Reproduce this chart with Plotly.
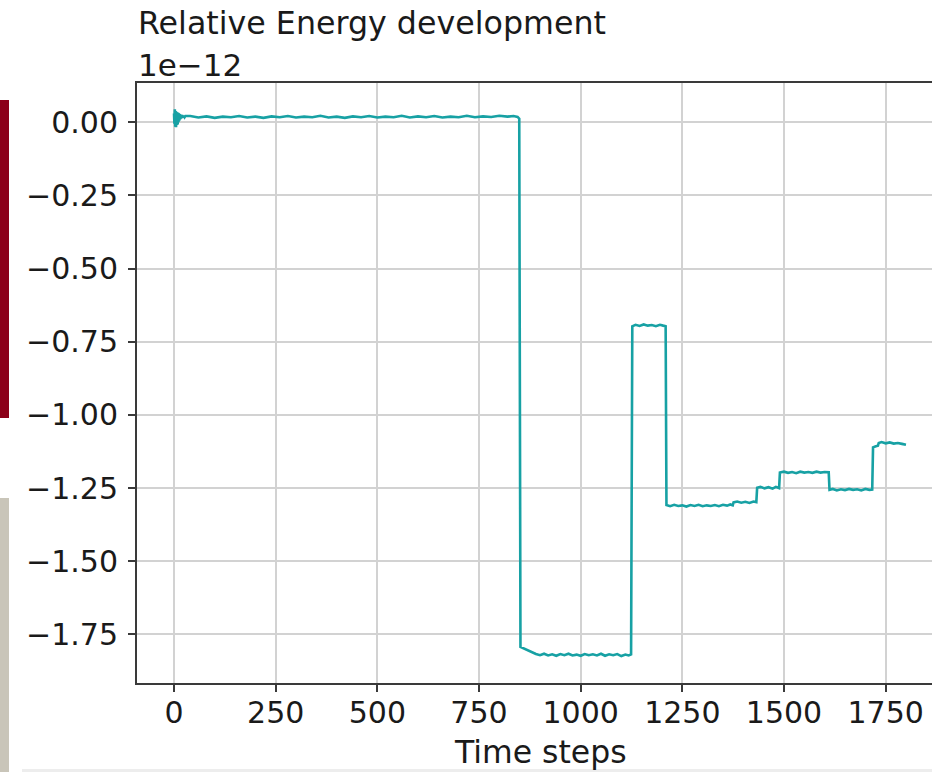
import plotly.graph_objects as go

# ---- data (relative energy, in units of 1e-12) ----
time_steps = [
    # start-up burst
    0, 1, 2, 3, 4, 5, 6, 7, 8, 9, 10, 11, 12, 13, 14, 15, 16, 17, 18, 19, 20, 22, 24, 26, 28,
    # first plateau (~0.02)
    40, 60, 80, 100, 120, 140, 160, 180, 200, 220, 240, 260, 280, 300, 320, 340, 360, 380,
    400, 420, 440, 460, 480, 500, 520, 540, 560, 580, 600, 620, 640, 660, 680, 700, 720,
    740, 760, 780, 800, 820, 835, 845, 849,
    # deep drop (~-1.82)
    852, 860, 870, 880, 890, 900, 910, 920, 930, 940, 950, 960, 970, 980, 990, 1000, 1010,
    1020, 1030, 1040, 1050, 1060, 1070, 1080, 1090, 1100, 1110, 1118, 1124,
    # jump (~-0.69)
    1127, 1135, 1145, 1155, 1165, 1175, 1185, 1195, 1203, 1209,
    # ~-1.31
    1211, 1220, 1230, 1240, 1250, 1260, 1270, 1280, 1290, 1300, 1310, 1320, 1330, 1340,
    1350, 1360, 1368, 1374,
    # ~-1.30
    1376, 1385, 1395, 1405, 1415, 1425, 1432,
    # ~-1.25
    1434, 1442, 1452, 1462, 1472, 1480, 1488,
    # ~-1.20
    1490, 1500, 1510, 1520, 1530, 1540, 1550, 1560, 1570, 1580, 1590, 1600, 1610,
    # ~-1.255
    1612, 1620, 1630, 1640, 1650, 1660, 1670, 1680, 1690, 1700, 1710, 1717,
    # ~-1.11 then ~-1.095
    1719, 1726, 1731,
    1733, 1740, 1750, 1760, 1770, 1780, 1790, 1800,
]
rel_energy_e12 = [
    0.030, -0.005, 0.044, -0.015, 0.038, -0.017, 0.036, -0.010, 0.034, -0.008, 0.032, 0.000,
    0.030, 0.005, 0.028, 0.010, 0.026, 0.012, 0.025, 0.014, 0.024, 0.016, 0.022, 0.017, 0.021,
    0.021, 0.016, 0.020, 0.015, 0.019, 0.017, 0.021, 0.016, 0.019, 0.015, 0.020, 0.017, 0.021,
    0.016, 0.019, 0.017, 0.022, 0.016, 0.019, 0.015, 0.020, 0.017, 0.021, 0.016, 0.019, 0.017,
    0.022, 0.016, 0.020, 0.017, 0.021, 0.016, 0.019, 0.017, 0.022, 0.017, 0.020, 0.018, 0.022,
    0.019, 0.021, 0.018, 0.012,
    -1.793, -1.798, -1.805, -1.812, -1.817, -1.821, -1.816, -1.822, -1.818, -1.823, -1.817,
    -1.821, -1.816, -1.822, -1.819, -1.823, -1.817, -1.821, -1.818, -1.822, -1.816, -1.823,
    -1.818, -1.821, -1.817, -1.824, -1.819, -1.822, -1.818,
    -0.697, -0.692, -0.696, -0.691, -0.695, -0.693, -0.697, -0.692, -0.695, -0.697,
    -1.308, -1.312, -1.307, -1.311, -1.309, -1.313, -1.308, -1.311, -1.307, -1.312, -1.309,
    -1.311, -1.308, -1.312, -1.307, -1.310, -1.306, -1.309,
    -1.299, -1.296, -1.300, -1.297, -1.301, -1.296, -1.298,
    -1.249, -1.246, -1.251, -1.247, -1.252, -1.246, -1.250,
    -1.197, -1.194, -1.198, -1.195, -1.199, -1.194, -1.197, -1.195, -1.198, -1.194, -1.197,
    -1.195, -1.196,
    -1.256, -1.253, -1.258, -1.254, -1.257, -1.253, -1.256, -1.254, -1.258, -1.253, -1.256,
    -1.255,
    -1.111, -1.107, -1.105,
    -1.096, -1.093, -1.097, -1.094, -1.098, -1.096, -1.099, -1.102,
]

x_ticks = [0, 250, 500, 750, 1000, 1250, 1500, 1750]
y_ticks = [0.0, -0.25, -0.5, -0.75, -1.0, -1.25, -1.5, -1.75]
y_tick_text = ["0.00", "\u22120.25", "\u22120.50", "\u22120.75", "\u22121.00", "\u22121.25", "\u22121.50", "\u22121.75"]

title_text = "Relative Energy development"
offset_text = "1e\u221212"
x_label = "Time steps"

FONT = "DejaVu Sans"
W, H = 932, 772
ML, MT, MB, MR = 137, 83, 89, 0
PW = W - ML - MR
PH = H - MT - MB

def px_x(px):
    return (px - ML) / PW

def px_y(py):
    return (H - MB - py) / PH

fig = go.Figure()
fig.add_trace(go.Scatter(
    x=time_steps, y=rel_energy_e12, mode="lines",
    line=dict(color="#17A1A4", width=2.6),
    showlegend=False, hoverinfo="skip",
))

axis_common = dict(
    showgrid=True, gridcolor="#D2D2D2", gridwidth=2,
    zeroline=False, showline=True, linecolor="#3A3A3A", linewidth=2,
    ticks="outside", ticklen=7, tickwidth=1.6, tickcolor="#3A3A3A",
    tickfont=dict(family=FONT, size=30, color="#1A1A1A"),
)

fig.update_layout(
    width=W, height=H,
    margin=dict(l=ML, r=MR, t=MT, b=MB),
    paper_bgcolor="white", plot_bgcolor="white",
    xaxis=dict(range=[-91, 1864], tickvals=x_ticks, ticktext=[str(v) for v in x_ticks],
               mirror=True, ticklabelstandoff=-5, **axis_common),
    yaxis=dict(range=[-1.916, 0.134], tickvals=y_ticks, ticktext=y_tick_text,
               mirror=False, ticklabelstandoff=4, **axis_common),
    annotations=[
        dict(text=title_text, xref="paper", yref="paper", x=px_x(136), y=px_y(43),
             xanchor="left", yanchor="bottom", showarrow=False,
             font=dict(family=FONT, size=31.7, color="#1A1A1A")),
        dict(text=offset_text, xref="paper", yref="paper", x=px_x(136), y=px_y(85),
             xanchor="left", yanchor="bottom", showarrow=False,
             font=dict(family=FONT, size=31, color="#1A1A1A")),
        dict(text=x_label, xref="paper", yref="paper", x=px_x(540), y=px_y(732),
             xanchor="center", yanchor="top", showarrow=False,
             font=dict(family=FONT, size=31.5, color="#1A1A1A")),
    ],
    shapes=[
        dict(type="rect", xref="paper", yref="paper", x0=px_x(0), x1=px_x(9),
             y0=px_y(418), y1=px_y(100), fillcolor="#8C0019", line=dict(width=0), layer="above"),
        dict(type="rect", xref="paper", yref="paper", x0=px_x(0), x1=px_x(9),
             y0=px_y(772), y1=px_y(498), fillcolor="#C9C5B9", line=dict(width=0), layer="above"),
        dict(type="rect", xref="paper", yref="paper", x0=px_x(22), x1=px_x(932),
             y0=px_y(772), y1=px_y(769), fillcolor="#EDEDED", line=dict(width=0), layer="above"),
    ],
)

fig.write_html("out.html")
